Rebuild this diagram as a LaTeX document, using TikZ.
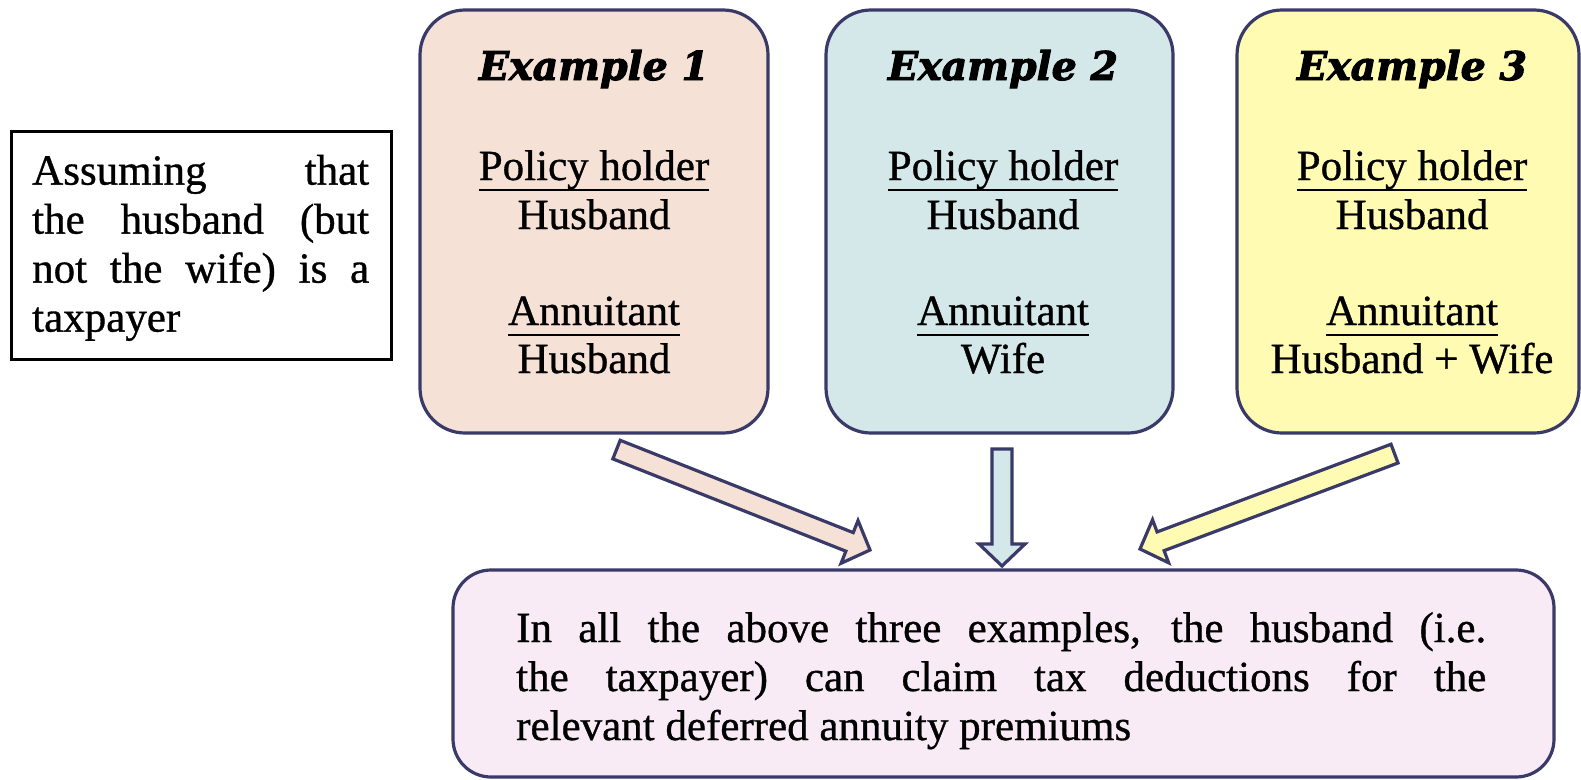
\documentclass[tikz,border=0pt]{standalone}
\usepackage{fontspec}
\setmainfont{Liberation Serif}[UprightFeatures={FakeBold=0.8}]
\newfontfamily\examplefont{DejaVu Serif}[BoldItalicFeatures={FakeBold=2.5}]
\usepackage{tikz}
\usetikzlibrary{
  calc,
  positioning,
}
\definecolor{navy}{HTML}{3A3A68}
\definecolor{peach}{HTML}{F6E1D6}
\definecolor{paleblue}{HTML}{D4E8EA}
\definecolor{paleyellow}{HTML}{FFFBB3}
\definecolor{palepink}{HTML}{F8EBF6}

% underlined heading word
\newcommand{\ulrule}[1]{\setbox0\hbox{#1}\rlap{\rule[-11pt]{\wd0}{2pt}}\box0}

% block arrow: tail, tip, fill
\newcommand{\blockarrow}[3]{%
  \coordinate (#2-base) at ($(#2)!22pt!(#1)$);
  \draw[arrowline, fill=#3]
    ($(#1)!10pt!90:(#2)$) -- ($(#2-base)!10pt!90:(#2)$) -- ($(#2-base)!23pt!90:(#2)$)
    -- (#2) -- ($(#2-base)!23pt!-90:(#2)$) -- ($(#2-base)!10pt!-90:(#2)$)
    -- ($(#1)!10pt!-90:(#2)$) -- cycle;
}

\tikzset{
  bodytext/.style={font=\fontsize{43}{49}\selectfont, inner sep=0pt},
  exhead/.style={font=\examplefont\bfseries\itshape\fontsize{39.5}{46}\selectfont, inner sep=0pt},
  card/.style={
    draw=navy,
    line width=3.2pt,
    rounded corners=45pt,
    fill=#1,
    minimum height=423pt,
  },
  arrowline/.style={draw=navy, line width=3.2pt, line join=miter},
}

\begin{document}
\begin{tikzpicture}[x=1pt, y=-1pt]
  \useasboundingbox (0,0) rectangle (1581,779);

  % assumption
  \node[draw=black, line width=3pt, minimum width=380pt, minimum height=228pt] (assume) at (201,245) {};
  \node[bodytext, text width=337pt, align=justify, anchor=north west] (assumetext) at (32,154.6)
    {Assuming that\linebreak the husband (but\linebreak not the wife) is a\linebreak taxpayer};

  % the three examples
  \foreach \n/\cx/\tx/\w/\fillc/\annu in {1/594/594/348/peach/Husband,
                                         2/999.5/1003/347/paleblue/Wife,
                                         3/1408/1412/342/paleyellow/Husband + Wife} {
    \node[card=\fillc, minimum width=\w pt] (ex\n) at (\cx,221.5) {};
    \node[exhead, anchor=base] (ex\n-title) at (\tx,80) {Example \n};
    \node[bodytext, anchor=base] (ex\n-holder) at (\tx,180) {\ulrule{Policy holder}};
    \node[bodytext, anchor=base] (ex\n-holdername) at (\tx,229) {Husband};
    \node[bodytext, anchor=base] (ex\n-annu) at (\tx,325) {\ulrule{Annuitant}};
    \node[bodytext, anchor=base] (ex\n-annuname) at (\tx,373) {\annu};
  }

  % conclusion
  \node[card=palepink, rounded corners=38pt, minimum width=1101pt, minimum height=207pt] (summary) at (1003.5,673.5) {};
  \node[bodytext, text width=970pt, align=justify, anchor=north west] (summarytext) at (516,612)
    {In all the above three examples, the husband (i.e.\linebreak the taxpayer) can claim tax deductions for the\linebreak relevant deferred annuity premiums};

  % arrows
  \coordinate (a1-tail) at (616.5,449.6);
  \coordinate (a1-tip) at (870,550);
  \coordinate (a2-tail) at (1002,449);
  \coordinate (a2-tip) at (1002,566);
  \coordinate (a3-tail) at (1394.5,453.6);
  \coordinate (a3-tip) at (1140,549);
  \blockarrow{a1-tail}{a1-tip}{peach}
  \blockarrow{a2-tail}{a2-tip}{paleblue}
  \blockarrow{a3-tail}{a3-tip}{paleyellow}
\end{tikzpicture}
\end{document}
